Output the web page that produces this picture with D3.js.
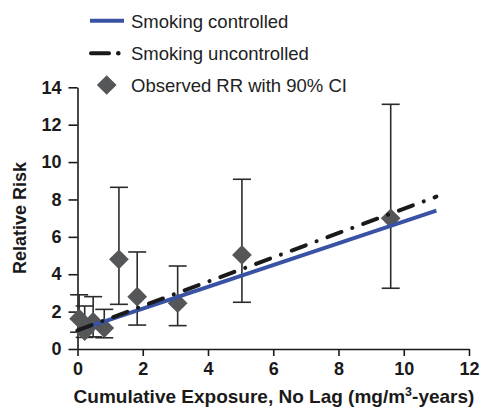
<!DOCTYPE html>
<html>
<head>
<meta charset="utf-8">
<script src="https://cdn.jsdelivr.net/npm/d3@7"></script>
<style>
  body { margin: 0; background: #fff; }
  svg { font-family: "Liberation Sans", Arial, sans-serif; }
</style>
</head>
<body>
<svg id="chart" width="480" height="414"></svg>
<script>
// observed relative risks (exposure, RR, lower 90% CI, upper 90% CI)
const exposure = [0.05, 0.22, 0.48, 0.82, 1.27, 1.83, 3.07, 5.04, 9.6]
const rr = [1.62, 0.95, 1.45, 1.12, 4.8, 2.8, 2.45, 5.03, 6.99]
const ciLow = [0.9, 0.62, 0.65, 0.6, 2.39, 1.28, 1.25, 2.5, 3.25]
const ciHigh = [2.9, 2.3, 2.8, 2.12, 8.65, 5.19, 4.44, 9.08, 13.09]

// fitted models
const fitX = [0, 11]
const smokingControlled = [1.0, 7.4]
const smokingUncontrolled = [1.0, 8.15]

const xTicks = [0, 2, 4, 6, 8, 10, 12]
const yTicks = [0, 2, 4, 6, 8, 10, 12, 14]

const svg = d3.select('#chart')

const x = d3.scaleLinear().domain([0, 12]).range([77.5, 469])
const y = d3.scaleLinear().domain([0, 14]).range([349, 87.3])

// axes
svg.append('g')
    .attr('transform', `translate(${x(0)},0)`)
    .call(d3.axisLeft(y).tickValues(yTicks).tickSize(9).tickSizeOuter(0).tickPadding(7))
svg.append('g')
    .attr('transform', `translate(0,${y(0)})`)
    .call(d3.axisBottom(x).tickValues(xTicks).tickSize(7).tickSizeOuter(0).tickPadding(6))

svg.selectAll('.domain, .tick line')
    .attr('stroke', '#1a1a1a')
    .attr('stroke-width', 1.6)
svg.selectAll('.tick text')
    .attr('font-family', '"Liberation Sans", Arial, sans-serif')
    .attr('font-size', 18)
    .attr('font-weight', 'bold')
    .attr('fill', '#1a1a1a')

// axis titles
svg.append('text')
    .attr('transform', `translate(26,218) rotate(-90)`)
    .attr('text-anchor', 'middle')
    .attr('font-size', 18)
    .attr('font-weight', 'bold')
    .attr('fill', '#1a1a1a')
    .text('Relative Risk')

const xTitle = svg.append('text')
    .attr('x', 274)
    .attr('y', 403)
    .attr('text-anchor', 'middle')
    .attr('font-size', 19)
    .attr('font-weight', 'bold')
    .attr('fill', '#1a1a1a')
xTitle.append('tspan').text('Cumulative Exposure, No Lag (mg/m')
xTitle.append('tspan').attr('font-size', 12.5).attr('dy', -7).text('3')
xTitle.append('tspan').attr('dy', 7).text('-years)')

// error bars
const pts = exposure.map((e, i) => ({ e, rr: rr[i], lo: ciLow[i], hi: ciHigh[i] }))
const capW = 9
const eb = svg.append('g').attr('stroke', '#2b2b2b').attr('stroke-width', 1.6)
eb.selectAll('line.v').data(pts).enter().append('line')
    .attr('x1', d => x(d.e)).attr('x2', d => x(d.e))
    .attr('y1', d => y(d.lo)).attr('y2', d => y(d.hi))
eb.selectAll('line.hi').data(pts).enter().append('line')
    .attr('x1', d => x(d.e) - capW).attr('x2', d => x(d.e) + capW)
    .attr('y1', d => y(d.hi)).attr('y2', d => y(d.hi))
eb.selectAll('line.lo').data(pts).enter().append('line')
    .attr('x1', d => x(d.e) - capW).attr('x2', d => x(d.e) + capW)
    .attr('y1', d => y(d.lo)).attr('y2', d => y(d.lo))

// diamonds
const diamond = d3.symbol().type(d3.symbolSquare).size(195)
svg.append('g').selectAll('path').data(pts).enter().append('path')
    .attr('d', diamond)
    .attr('transform', d => `translate(${x(d.e)},${y(d.rr)}) rotate(45)`)
    .attr('fill', '#555658')

// fitted lines
const line = d3.line().x(d => x(d[0])).y(d => y(d[1]))
svg.append('path')
    .datum(fitX.map((v, i) => [v, smokingControlled[i]]))
    .attr('d', line)
    .attr('fill', 'none')
    .attr('stroke', '#3953a4')
    .attr('stroke-width', 4)
svg.append('path')
    .datum(fitX.map((v, i) => [v, smokingUncontrolled[i]]))
    .attr('d', line)
    .attr('fill', 'none')
    .attr('stroke', '#1a1a1a')
    .attr('stroke-width', 4)
    .attr('stroke-linecap', 'round')
    .attr('stroke-dasharray', '15,11.5,0.1,11.5')

// legend
const legend = svg.append('g').attr('font-size', 18.5).attr('fill', '#222')
legend.append('line')
    .attr('x1', 90).attr('x2', 124).attr('y1', 20.7).attr('y2', 20.7)
    .attr('stroke', '#3953a4').attr('stroke-width', 4)
legend.append('line')
    .attr('x1', 91).attr('x2', 109).attr('y1', 53.3).attr('y2', 53.3)
    .attr('stroke', '#1a1a1a').attr('stroke-width', 4).attr('stroke-linecap', 'round')
legend.append('circle')
    .attr('cx', 118.3).attr('cy', 53.3).attr('r', 2.3).attr('fill', '#1a1a1a')
legend.append('path')
    .attr('d', diamond)
    .attr('transform', 'translate(106.7,85) rotate(45)')
    .attr('fill', '#555658')
const labels = ['Smoking controlled', 'Smoking uncontrolled', 'Observed RR with 90% CI']
legend.selectAll('text').data(labels).enter().append('text')
    .attr('x', 131)
    .attr('y', (d, i) => 28 + i * 31.8)
    .text(d => d)
</script>
</body>
</html>
